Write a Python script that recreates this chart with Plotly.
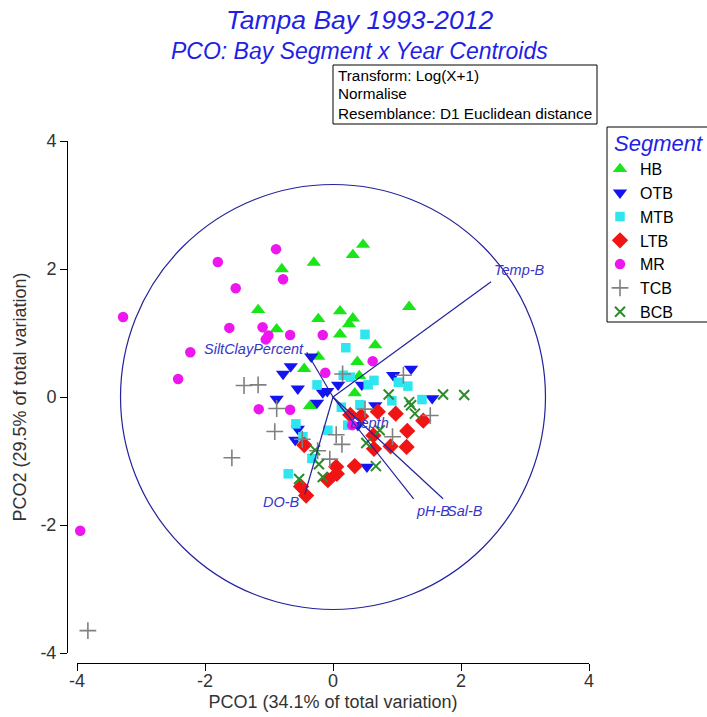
import plotly.graph_objects as go

# ---- PCO centroid coordinates (PCO1, PCO2) per bay segment ----
hb_x = [0.47, 0.31, -0.30, -0.80, 1.19, -1.17, 0.11, -0.23, 0.31, 0.25, -0.88, 0.11, 0.66, -0.23, 0.38, -0.45, 0.41, 0.34, -0.36]
hb_y = [2.38, 2.22, 2.10, 2.00, 1.41, 1.36, 1.34, 1.22, 1.23, 1.14, 1.06, 0.98, 0.81, 0.63, 0.55, 0.44, 0.33, 0.06, -0.14]

otb_x = [-0.34, -0.66, -0.78, -0.55, -0.09, -0.16, 0.08, -0.88, -0.25, -0.55, -0.59, 0.94, 1.22, 0.45, 0.66, 1.55, 0.53, 0.39]
otb_y = [0.63, 0.48, 0.36, 0.13, 0.09, 0.07, 0.19, -0.03, -0.09, -0.50, -0.67, 0.34, 0.44, 0.19, -0.13, -0.02, -1.09, -0.44]

mtb_x = [0.50, 0.20, 0.16, 0.27, -0.25, 0.55, 0.64, 1.02, 1.17, 0.92, 1.39, 0.42, 0.13, -0.58, -0.08, -0.47, -0.33, -0.70, 0.23]
mtb_y = [0.98, 0.77, 0.34, 0.31, 0.19, 0.19, 0.26, 0.23, 0.17, -0.06, -0.04, -0.12, -0.16, -0.42, -0.52, -0.62, -0.96, -1.20, -0.44]

ltb_x = [0.27, 0.44, 0.70, 0.98, 1.41, 0.63, 1.16, 0.90, 1.15, 0.64, -0.45, 0.05, 0.06, 0.34, -0.08, -0.50, -0.42]
ltb_y = [-0.28, -0.30, -0.23, -0.26, -0.37, -0.60, -0.53, -0.77, -0.78, -0.81, -0.75, -1.09, -1.20, -1.08, -1.30, -1.40, -1.54]

mr_x = [-1.80, -0.89, -0.78, -1.52, -3.28, -1.62, -1.10, -1.01, -1.05, -0.67, -0.16, 0.62, -0.12, -2.23, -2.42, -1.16, -0.67, 0.30, -3.95]
mr_y = [2.11, 2.31, 1.84, 1.70, 1.25, 1.08, 1.09, 0.96, 0.90, 0.97, 0.97, 0.56, 0.38, 0.70, 0.28, -0.19, -0.20, -0.44, -2.09]

tcb_x = [-3.83, -1.58, -1.39, -1.17, -0.88, -0.91, 0.15, 1.10, 0.05, 0.14, -0.24, -0.05, 0.50, 0.93, 1.52, -0.48]
tcb_y = [-3.65, -0.95, 0.18, 0.19, -0.18, -0.54, 0.36, 0.34, -0.59, -0.74, -0.84, -0.97, -0.19, -0.62, -0.29, -0.66]

bcb_x = [0.87, 1.72, 2.05, 1.19, 1.22, 1.28, 0.73, 0.52, -0.28, -0.22, -0.16, -0.53, 0.67]
bcb_y = [0.04, 0.04, 0.03, -0.08, -0.13, -0.26, -0.52, -0.72, -0.83, -1.05, -1.25, -1.28, -1.08]

# ---- environmental vector overlay ----
vec_names = ["Temp-B", "SiltClayPercent", "DO-B", "pH-B", "Sal-B", "Depth"]
vec_x = [2.47, -0.41, -0.44, 1.26, 1.72, 0.20]
vec_y = [1.80, 0.70, -1.52, -1.59, -1.59, -0.25]
circle_radius = 3.32

tick_vals = [-4, -2, 0, 2, 4]
tick_text = ["-4", "-2", "0", "2", "4"]

FONT = "Liberation Sans, Arial, sans-serif"
BLUE_TITLE = "#1f1fe6"
VEC_COLOR = "#23239c"
VEC_TEXT = "#3636c8"

# plot area in pixels: x 67..589, y 141..663 (522 x 522)
PW = 522.0


def px_x(px):
    return (px - 67) / PW


def px_y(py):
    return (663 - py) / PW


series = [
    ("HB", hb_x, hb_y, "triangle-up", 12.5, "#19e619", None),
    ("OTB", otb_x, otb_y, "triangle-down", 12.5, "#1414f0", None),
    ("MTB", mtb_x, mtb_y, "square", 9.5, "#2ee6f0", None),
    ("LTB", ltb_x, ltb_y, "diamond", 12.5, "#f01414", None),
    ("MR", mr_x, mr_y, "circle", 10.5, "#ee16ee", None),
    ("TCB", tcb_x, tcb_y, "cross-thin", 12, "#808080", 1.6),
    ("BCB", bcb_x, bcb_y, "x-thin", 10, "#2a8c2a", 2.0),
]

fig = go.Figure()
for name, xs, ys, sym, size, color, lw in series:
    marker = dict(symbol=sym, size=size, color=color)
    if lw is not None:
        marker["line"] = dict(color=color, width=lw)
    else:
        marker["line"] = dict(width=0)
    fig.add_trace(go.Scatter(x=xs, y=ys, mode="markers", name=name,
                             marker=marker, cliponaxis=False,
                             hoverinfo="skip"))

# correlation circle
fig.add_shape(type="circle", xref="x", yref="y",
              x0=-circle_radius, y0=-circle_radius,
              x1=circle_radius, y1=circle_radius,
              line=dict(color=VEC_COLOR, width=1.2), layer="above")

# vectors from the origin
for vx, vy in zip(vec_x, vec_y):
    fig.add_shape(type="line", xref="x", yref="y", x0=0, y0=0, x1=vx, y1=vy,
                  line=dict(color=VEC_COLOR, width=1.2), layer="above")

label_pos = {
    "Temp-B": dict(xanchor="left", yanchor="bottom", xshift=1, yshift=2),
    "SiltClayPercent": dict(xanchor="right", yanchor="middle", xshift=-1, yshift=3),
    "DO-B": dict(xanchor="right", yanchor="top", xshift=-3, yshift=2),
    "pH-B": dict(xanchor="left", yanchor="top", xshift=0, yshift=-2),
    "Sal-B": dict(xanchor="left", yanchor="top", xshift=2, yshift=-2),
    "Depth": dict(xanchor="left", yanchor="top", xshift=2, yshift=0),
}
for name, vx, vy in zip(vec_names, vec_x, vec_y):
    fig.add_annotation(x=vx, y=vy, xref="x", yref="y", text=name, showarrow=False,
                       font=dict(family=FONT, size=14.5, color=VEC_TEXT, style="italic"),
                       **label_pos[name])

# titles
fig.add_annotation(x=px_x(359), y=px_y(20), xref="paper", yref="paper",
                   text="Tampa Bay 1993-2012", showarrow=False,
                   xanchor="center", yanchor="middle",
                   font=dict(family=FONT, size=26.5, color=BLUE_TITLE, style="italic"))
fig.add_annotation(x=px_x(359), y=px_y(51), xref="paper", yref="paper",
                   text="PCO: Bay Segment x Year Centroids", showarrow=False,
                   xanchor="center", yanchor="middle",
                   font=dict(family=FONT, size=23, color=BLUE_TITLE, style="italic"))

# info box
fig.add_shape(type="rect", xref="paper", yref="paper",
              x0=px_x(333), x1=px_x(597), y0=px_y(124), y1=px_y(65),
              line=dict(color="black", width=1), fillcolor="white", layer="above")
info_lines = ["Transform: Log(X+1)", "Normalise", "Resemblance: D1 Euclidean distance"]
for i, line in enumerate(info_lines):
    fig.add_annotation(x=px_x(336), y=px_y(75 + 19 * i), xref="paper", yref="paper",
                       text=line, showarrow=False, xanchor="left", yanchor="middle",
                       font=dict(family=FONT, size=15.3, color="black"))

# legend frame and heading
fig.add_shape(type="rect", xref="paper", yref="paper",
              x0=px_x(607), x1=px_x(716), y0=px_y(322), y1=px_y(127),
              line=dict(color="black", width=1), fillcolor="white", layer="below")
fig.add_annotation(x=px_x(612), y=px_y(143), xref="paper", yref="paper",
                   text="Segment", showarrow=False, xanchor="left", yanchor="middle",
                   font=dict(family=FONT, size=22, color=BLUE_TITLE, style="italic"))

axis_common = dict(
    range=[-4, 4], domain=[10 / PW, 1], anchor="free", position=0,
    showline=True, linecolor="black", linewidth=1,
    ticks="outside", ticklen=7, tickcolor="black", tickwidth=1,
    tickvals=tick_vals, ticktext=tick_text,
    showgrid=False, zeroline=False, automargin=False,
    tickfont=dict(family=FONT, size=18, color="#333333"),
)

fig.update_layout(
    width=707, height=717, autosize=False,
    margin=dict(l=67, r=118, t=141, b=54, autoexpand=False),
    paper_bgcolor="white", plot_bgcolor="white",
    xaxis=dict(title=dict(text="PCO1 (34.1% of total variation)", standoff=5,
                          font=dict(family=FONT, size=18, color="#333333")),
               ticklabelstandoff=-6,
               **axis_common),
    yaxis=dict(title=dict(text="PCO2 (29.5% of total variation)", standoff=8,
                          font=dict(family=FONT, size=18, color="#333333")),
               **axis_common),
    legend=dict(
        x=px_x(600), y=px_y(152), xanchor="left", yanchor="top",
        borderwidth=0, bgcolor="rgba(0,0,0,0)",
        font=dict(family=FONT, size=16, color="black"),
        itemwidth=30, tracegroupgap=0,
    ),
    showlegend=True,
)

fig.write_html("out.html")
